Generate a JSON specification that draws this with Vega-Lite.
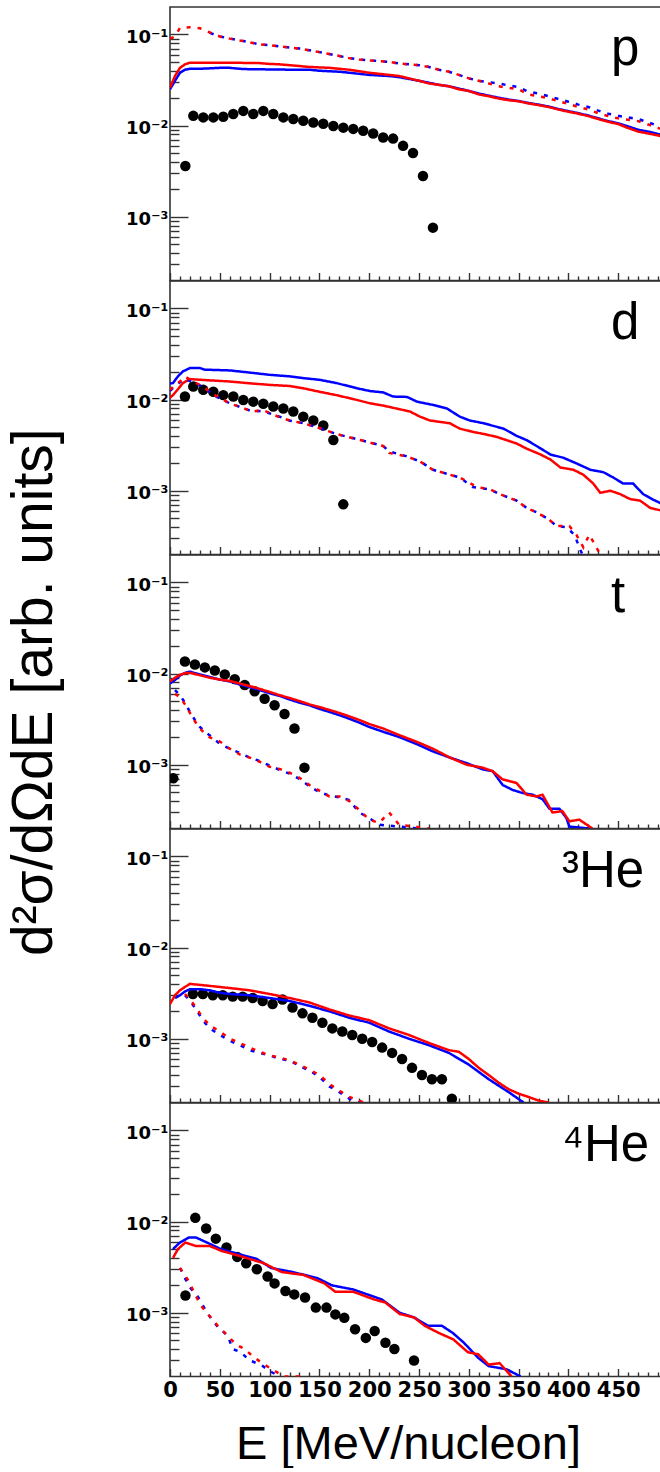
{
"$schema": "https://vega.github.io/schema/vega-lite/v6.json",
"padding": {"left": 4, "top": 6, "right": 0, "bottom": 0},
"background": "white",
"spacing": 0,
"bounds": "flush",
"config": {
  "view": {"stroke": "#333", "strokeWidth": 1.6},
  "axis": {"domain": false, "grid": false, "tickColor": "#333", "tickWidth": 1.4, "labelColor": "#000", "labelFont": "DejaVu Sans", "labelFontWeight": "bold", "titleColor": "#000", "titleFont": "Liberation Sans", "titleFontWeight": "normal", "labelOverlap": false, "labelFlush": false, "labelBound": false},
  "title": {"font": "Liberation Sans", "fontSize": 51, "fontWeight": "normal", "color": "#000", "anchor": "start", "frame": "group", "orient": "top", "baseline": "alphabetic", "offset": -69}
},
"datasets": {"d": [
{"panel":"p","series":"blue","E":0,"v":0.025},{"panel":"p","series":"blue","E":5,"v":0.031},{"panel":"p","series":"blue","E":10,"v":0.038},{"panel":"p","series":"blue","E":15,"v":0.041},{"panel":"p","series":"blue","E":20,"v":0.042},{"panel":"p","series":"blue","E":30,"v":0.042},{"panel":"p","series":"blue","E":40,"v":0.0425},{"panel":"p","series":"blue","E":50,"v":0.043},{"panel":"p","series":"blue","E":60,"v":0.043},{"panel":"p","series":"blue","E":70,"v":0.042},{"panel":"p","series":"blue","E":80,"v":0.0415},{"panel":"p","series":"blue","E":90,"v":0.0415},{"panel":"p","series":"blue","E":100,"v":0.0413},{"panel":"p","series":"blue","E":110,"v":0.0413},{"panel":"p","series":"blue","E":120,"v":0.041},{"panel":"p","series":"blue","E":130,"v":0.041},{"panel":"p","series":"blue","E":140,"v":0.041},{"panel":"p","series":"blue","E":150,"v":0.04},{"panel":"p","series":"blue","E":160,"v":0.0395},{"panel":"p","series":"blue","E":170,"v":0.039},{"panel":"p","series":"blue","E":180,"v":0.038},{"panel":"p","series":"blue","E":190,"v":0.037},{"panel":"p","series":"blue","E":200,"v":0.036},{"panel":"p","series":"blue","E":210,"v":0.0355},{"panel":"p","series":"blue","E":220,"v":0.035},{"panel":"p","series":"blue","E":230,"v":0.034},{"panel":"p","series":"blue","E":240,"v":0.0325},{"panel":"p","series":"blue","E":250,"v":0.031},{"panel":"p","series":"blue","E":260,"v":0.0295},{"panel":"p","series":"blue","E":270,"v":0.028},{"panel":"p","series":"blue","E":280,"v":0.027},{"panel":"p","series":"blue","E":290,"v":0.0255},{"panel":"p","series":"blue","E":300,"v":0.024},{"panel":"p","series":"blue","E":310,"v":0.0225},{"panel":"p","series":"blue","E":320,"v":0.0213},{"panel":"p","series":"blue","E":330,"v":0.0202},{"panel":"p","series":"blue","E":340,"v":0.0193},{"panel":"p","series":"blue","E":350,"v":0.0186},{"panel":"p","series":"blue","E":360,"v":0.0177},{"panel":"p","series":"blue","E":370,"v":0.017},{"panel":"p","series":"blue","E":380,"v":0.0162},{"panel":"p","series":"blue","E":390,"v":0.0152},{"panel":"p","series":"blue","E":400,"v":0.0144},{"panel":"p","series":"blue","E":410,"v":0.0137},{"panel":"p","series":"blue","E":420,"v":0.0129},{"panel":"p","series":"blue","E":430,"v":0.012},{"panel":"p","series":"blue","E":440,"v":0.0112},{"panel":"p","series":"blue","E":450,"v":0.0106},{"panel":"p","series":"blue","E":460,"v":0.0098},{"panel":"p","series":"blue","E":470,"v":0.009},{"panel":"p","series":"blue","E":480,"v":0.0086},{"panel":"p","series":"blue","E":490,"v":0.0081},{"panel":"p","series":"blue","E":495,"v":0.0079},
{"panel":"p","series":"red","E":0,"v":0.026},{"panel":"p","series":"red","E":5,"v":0.035},{"panel":"p","series":"red","E":10,"v":0.043},{"panel":"p","series":"red","E":15,"v":0.047},{"panel":"p","series":"red","E":20,"v":0.049},{"panel":"p","series":"red","E":30,"v":0.049},{"panel":"p","series":"red","E":40,"v":0.049},{"panel":"p","series":"red","E":50,"v":0.049},{"panel":"p","series":"red","E":60,"v":0.049},{"panel":"p","series":"red","E":70,"v":0.0488},{"panel":"p","series":"red","E":80,"v":0.0487},{"panel":"p","series":"red","E":90,"v":0.0485},{"panel":"p","series":"red","E":100,"v":0.0475},{"panel":"p","series":"red","E":110,"v":0.047},{"panel":"p","series":"red","E":120,"v":0.046},{"panel":"p","series":"red","E":130,"v":0.045},{"panel":"p","series":"red","E":140,"v":0.044},{"panel":"p","series":"red","E":150,"v":0.0435},{"panel":"p","series":"red","E":160,"v":0.043},{"panel":"p","series":"red","E":170,"v":0.042},{"panel":"p","series":"red","E":180,"v":0.041},{"panel":"p","series":"red","E":190,"v":0.0395},{"panel":"p","series":"red","E":200,"v":0.038},{"panel":"p","series":"red","E":210,"v":0.037},{"panel":"p","series":"red","E":220,"v":0.036},{"panel":"p","series":"red","E":230,"v":0.035},{"panel":"p","series":"red","E":240,"v":0.033},{"panel":"p","series":"red","E":250,"v":0.031},{"panel":"p","series":"red","E":260,"v":0.029},{"panel":"p","series":"red","E":270,"v":0.028},{"panel":"p","series":"red","E":280,"v":0.027},{"panel":"p","series":"red","E":290,"v":0.025},{"panel":"p","series":"red","E":300,"v":0.024},{"panel":"p","series":"red","E":310,"v":0.022},{"panel":"p","series":"red","E":320,"v":0.021},{"panel":"p","series":"red","E":330,"v":0.0198},{"panel":"p","series":"red","E":340,"v":0.019},{"panel":"p","series":"red","E":350,"v":0.0185},{"panel":"p","series":"red","E":360,"v":0.0175},{"panel":"p","series":"red","E":370,"v":0.0168},{"panel":"p","series":"red","E":380,"v":0.016},{"panel":"p","series":"red","E":390,"v":0.015},{"panel":"p","series":"red","E":400,"v":0.0142},{"panel":"p","series":"red","E":410,"v":0.0135},{"panel":"p","series":"red","E":420,"v":0.0127},{"panel":"p","series":"red","E":430,"v":0.0118},{"panel":"p","series":"red","E":440,"v":0.011},{"panel":"p","series":"red","E":450,"v":0.0104},{"panel":"p","series":"red","E":460,"v":0.0094},{"panel":"p","series":"red","E":470,"v":0.0086},{"panel":"p","series":"red","E":480,"v":0.0082},{"panel":"p","series":"red","E":490,"v":0.0078},{"panel":"p","series":"red","E":495,"v":0.0075},
{"panel":"p","series":"blue dotted","E":40,"v":0.104},{"panel":"p","series":"blue dotted","E":50,"v":0.095},{"panel":"p","series":"blue dotted","E":60,"v":0.09},{"panel":"p","series":"blue dotted","E":70,"v":0.086},{"panel":"p","series":"blue dotted","E":80,"v":0.082},{"panel":"p","series":"blue dotted","E":90,"v":0.078},{"panel":"p","series":"blue dotted","E":100,"v":0.076},{"panel":"p","series":"blue dotted","E":110,"v":0.074},{"panel":"p","series":"blue dotted","E":120,"v":0.072},{"panel":"p","series":"blue dotted","E":130,"v":0.07},{"panel":"p","series":"blue dotted","E":140,"v":0.067},{"panel":"p","series":"blue dotted","E":150,"v":0.064},{"panel":"p","series":"blue dotted","E":160,"v":0.061},{"panel":"p","series":"blue dotted","E":170,"v":0.058},{"panel":"p","series":"blue dotted","E":180,"v":0.055},{"panel":"p","series":"blue dotted","E":190,"v":0.053},{"panel":"p","series":"blue dotted","E":200,"v":0.052},{"panel":"p","series":"blue dotted","E":210,"v":0.051},{"panel":"p","series":"blue dotted","E":220,"v":0.05},{"panel":"p","series":"blue dotted","E":230,"v":0.048},{"panel":"p","series":"blue dotted","E":240,"v":0.047},{"panel":"p","series":"blue dotted","E":250,"v":0.046},{"panel":"p","series":"blue dotted","E":260,"v":0.044},{"panel":"p","series":"blue dotted","E":270,"v":0.041},{"panel":"p","series":"blue dotted","E":280,"v":0.039},{"panel":"p","series":"blue dotted","E":290,"v":0.036},{"panel":"p","series":"blue dotted","E":300,"v":0.033},{"panel":"p","series":"blue dotted","E":310,"v":0.031},{"panel":"p","series":"blue dotted","E":320,"v":0.03},{"panel":"p","series":"blue dotted","E":330,"v":0.029},{"panel":"p","series":"blue dotted","E":340,"v":0.0275},{"panel":"p","series":"blue dotted","E":350,"v":0.0265},{"panel":"p","series":"blue dotted","E":360,"v":0.0235},{"panel":"p","series":"blue dotted","E":370,"v":0.0225},{"panel":"p","series":"blue dotted","E":380,"v":0.021},{"panel":"p","series":"blue dotted","E":390,"v":0.0196},{"panel":"p","series":"blue dotted","E":400,"v":0.0183},{"panel":"p","series":"blue dotted","E":410,"v":0.017},{"panel":"p","series":"blue dotted","E":420,"v":0.016},{"panel":"p","series":"blue dotted","E":430,"v":0.0146},{"panel":"p","series":"blue dotted","E":440,"v":0.0135},{"panel":"p","series":"blue dotted","E":450,"v":0.0128},{"panel":"p","series":"blue dotted","E":460,"v":0.0123},{"panel":"p","series":"blue dotted","E":470,"v":0.0118},{"panel":"p","series":"blue dotted","E":480,"v":0.0109},{"panel":"p","series":"blue dotted","E":490,"v":0.0099},{"panel":"p","series":"blue dotted","E":495,"v":0.0096},
{"panel":"p","series":"red dotted","E":0,"v":0.09},{"panel":"p","series":"red dotted","E":5,"v":0.095},{"panel":"p","series":"red dotted","E":10,"v":0.118},{"panel":"p","series":"red dotted","E":20,"v":0.12},{"panel":"p","series":"red dotted","E":30,"v":0.117},{"panel":"p","series":"red dotted","E":40,"v":0.105},{"panel":"p","series":"red dotted","E":50,"v":0.095},{"panel":"p","series":"red dotted","E":60,"v":0.09},{"panel":"p","series":"red dotted","E":70,"v":0.086},{"panel":"p","series":"red dotted","E":80,"v":0.082},{"panel":"p","series":"red dotted","E":90,"v":0.078},{"panel":"p","series":"red dotted","E":100,"v":0.076},{"panel":"p","series":"red dotted","E":110,"v":0.074},{"panel":"p","series":"red dotted","E":120,"v":0.072},{"panel":"p","series":"red dotted","E":130,"v":0.07},{"panel":"p","series":"red dotted","E":140,"v":0.067},{"panel":"p","series":"red dotted","E":150,"v":0.064},{"panel":"p","series":"red dotted","E":160,"v":0.061},{"panel":"p","series":"red dotted","E":170,"v":0.058},{"panel":"p","series":"red dotted","E":180,"v":0.055},{"panel":"p","series":"red dotted","E":190,"v":0.053},{"panel":"p","series":"red dotted","E":200,"v":0.052},{"panel":"p","series":"red dotted","E":210,"v":0.051},{"panel":"p","series":"red dotted","E":220,"v":0.05},{"panel":"p","series":"red dotted","E":230,"v":0.048},{"panel":"p","series":"red dotted","E":240,"v":0.047},{"panel":"p","series":"red dotted","E":250,"v":0.046},{"panel":"p","series":"red dotted","E":260,"v":0.044},{"panel":"p","series":"red dotted","E":270,"v":0.041},{"panel":"p","series":"red dotted","E":280,"v":0.039},{"panel":"p","series":"red dotted","E":290,"v":0.036},{"panel":"p","series":"red dotted","E":300,"v":0.033},{"panel":"p","series":"red dotted","E":310,"v":0.031},{"panel":"p","series":"red dotted","E":320,"v":0.029},{"panel":"p","series":"red dotted","E":330,"v":0.027},{"panel":"p","series":"red dotted","E":340,"v":0.026},{"panel":"p","series":"red dotted","E":350,"v":0.025},{"panel":"p","series":"red dotted","E":360,"v":0.022},{"panel":"p","series":"red dotted","E":370,"v":0.021},{"panel":"p","series":"red dotted","E":380,"v":0.02},{"panel":"p","series":"red dotted","E":390,"v":0.0185},{"panel":"p","series":"red dotted","E":400,"v":0.0173},{"panel":"p","series":"red dotted","E":410,"v":0.016},{"panel":"p","series":"red dotted","E":420,"v":0.015},{"panel":"p","series":"red dotted","E":430,"v":0.0137},{"panel":"p","series":"red dotted","E":440,"v":0.0127},{"panel":"p","series":"red dotted","E":450,"v":0.012},{"panel":"p","series":"red dotted","E":460,"v":0.0116},{"panel":"p","series":"red dotted","E":470,"v":0.0112},{"panel":"p","series":"red dotted","E":480,"v":0.0103},{"panel":"p","series":"red dotted","E":490,"v":0.0094},{"panel":"p","series":"red dotted","E":495,"v":0.0092},
{"panel":"p","series":"data","E":15.4,"v":0.0036},{"panel":"p","series":"data","E":23.4,"v":0.0128},{"panel":"p","series":"data","E":33.4,"v":0.0123},{"panel":"p","series":"data","E":43.5,"v":0.0123},{"panel":"p","series":"data","E":53.5,"v":0.0125},{"panel":"p","series":"data","E":63.5,"v":0.0134},{"panel":"p","series":"data","E":73.6,"v":0.0145},{"panel":"p","series":"data","E":83.6,"v":0.0134},{"panel":"p","series":"data","E":93.7,"v":0.0145},{"panel":"p","series":"data","E":103.7,"v":0.0134},{"panel":"p","series":"data","E":113.8,"v":0.0123},{"panel":"p","series":"data","E":123.8,"v":0.0118},{"panel":"p","series":"data","E":133.8,"v":0.0113},{"panel":"p","series":"data","E":143.9,"v":0.0108},{"panel":"p","series":"data","E":153.9,"v":0.0105},{"panel":"p","series":"data","E":164,"v":0.0099},{"panel":"p","series":"data","E":174,"v":0.0095},{"panel":"p","series":"data","E":184,"v":0.0092},{"panel":"p","series":"data","E":194,"v":0.0088},{"panel":"p","series":"data","E":204,"v":0.0082},{"panel":"p","series":"data","E":214,"v":0.0074},{"panel":"p","series":"data","E":224,"v":0.0072},{"panel":"p","series":"data","E":234,"v":0.006},{"panel":"p","series":"data","E":244,"v":0.005},{"panel":"p","series":"data","E":254,"v":0.0028},{"panel":"p","series":"data","E":264,"v":0.00076},
{"panel":"d","series":"blue","E":0,"v":0.015},{"panel":"d","series":"blue","E":3,"v":0.0152},{"panel":"d","series":"blue","E":8,"v":0.018},{"panel":"d","series":"blue","E":13,"v":0.0204},{"panel":"d","series":"blue","E":20,"v":0.0222},{"panel":"d","series":"blue","E":30,"v":0.0222},{"panel":"d","series":"blue","E":35,"v":0.0213},{"panel":"d","series":"blue","E":60,"v":0.0209},{"panel":"d","series":"blue","E":80,"v":0.0198},{"panel":"d","series":"blue","E":100,"v":0.0187},{"panel":"d","series":"blue","E":120,"v":0.018},{"panel":"d","series":"blue","E":134,"v":0.0172},{"panel":"d","series":"blue","E":150,"v":0.0165},{"panel":"d","series":"blue","E":167,"v":0.0152},{"panel":"d","series":"blue","E":188,"v":0.0133},{"panel":"d","series":"blue","E":201,"v":0.0124},{"panel":"d","series":"blue","E":214,"v":0.012},{"panel":"d","series":"blue","E":224,"v":0.0108},{"panel":"d","series":"blue","E":238,"v":0.0107},{"panel":"d","series":"blue","E":248,"v":0.0095},{"panel":"d","series":"blue","E":265,"v":0.0087},{"panel":"d","series":"blue","E":278,"v":0.008},{"panel":"d","series":"blue","E":291,"v":0.0065},{"panel":"d","series":"blue","E":301,"v":0.0059},{"panel":"d","series":"blue","E":315,"v":0.0055},{"panel":"d","series":"blue","E":335,"v":0.0048},{"panel":"d","series":"blue","E":348,"v":0.004},{"panel":"d","series":"blue","E":358,"v":0.0036},{"panel":"d","series":"blue","E":368,"v":0.0031},{"panel":"d","series":"blue","E":382,"v":0.0025},{"panel":"d","series":"blue","E":395,"v":0.0023},{"panel":"d","series":"blue","E":408,"v":0.002},{"panel":"d","series":"blue","E":422,"v":0.0017},{"panel":"d","series":"blue","E":435,"v":0.0016},{"panel":"d","series":"blue","E":445,"v":0.0014},{"panel":"d","series":"blue","E":455,"v":0.0012},{"panel":"d","series":"blue","E":465,"v":0.0012},{"panel":"d","series":"blue","E":475,"v":0.00092},{"panel":"d","series":"blue","E":485,"v":0.0008},{"panel":"d","series":"blue","E":495,"v":0.00071},
{"panel":"d","series":"red","E":0,"v":0.0105},{"panel":"d","series":"red","E":3,"v":0.0112},{"panel":"d","series":"red","E":8,"v":0.013},{"panel":"d","series":"red","E":13,"v":0.0152},{"panel":"d","series":"red","E":20,"v":0.0168},{"panel":"d","series":"red","E":30,"v":0.0165},{"panel":"d","series":"red","E":60,"v":0.0158},{"panel":"d","series":"red","E":77,"v":0.0152},{"panel":"d","series":"red","E":100,"v":0.0145},{"panel":"d","series":"red","E":120,"v":0.0141},{"panel":"d","series":"red","E":134,"v":0.0133},{"panel":"d","series":"red","E":150,"v":0.0122},{"panel":"d","series":"red","E":167,"v":0.0112},{"panel":"d","series":"red","E":188,"v":0.0099},{"panel":"d","series":"red","E":201,"v":0.0091},{"panel":"d","series":"red","E":214,"v":0.0086},{"panel":"d","series":"red","E":227,"v":0.008},{"panel":"d","series":"red","E":241,"v":0.0074},{"panel":"d","series":"red","E":251,"v":0.0065},{"panel":"d","series":"red","E":261,"v":0.0059},{"panel":"d","series":"red","E":281,"v":0.0055},{"panel":"d","series":"red","E":291,"v":0.0048},{"panel":"d","series":"red","E":305,"v":0.0044},{"panel":"d","series":"red","E":315,"v":0.0042},{"panel":"d","series":"red","E":328,"v":0.0039},{"panel":"d","series":"red","E":348,"v":0.0033},{"panel":"d","series":"red","E":358,"v":0.0029},{"panel":"d","series":"red","E":372,"v":0.0025},{"panel":"d","series":"red","E":382,"v":0.0022},{"panel":"d","series":"red","E":392,"v":0.0018},{"panel":"d","series":"red","E":405,"v":0.0017},{"panel":"d","series":"red","E":415,"v":0.0015},{"panel":"d","series":"red","E":425,"v":0.0012},{"panel":"d","series":"red","E":432,"v":0.00095},{"panel":"d","series":"red","E":442,"v":0.001},{"panel":"d","series":"red","E":452,"v":0.00092},{"panel":"d","series":"red","E":462,"v":0.00081},{"panel":"d","series":"red","E":472,"v":0.00078},{"panel":"d","series":"red","E":482,"v":0.00065},{"panel":"d","series":"red","E":495,"v":0.0006},
{"panel":"d","series":"blue dotted","E":0,"v":0.0125},{"panel":"d","series":"blue dotted","E":5,"v":0.014},{"panel":"d","series":"blue dotted","E":10,"v":0.0155},{"panel":"d","series":"blue dotted","E":15,"v":0.017},{"panel":"d","series":"blue dotted","E":20,"v":0.016},{"panel":"d","series":"blue dotted","E":33,"v":0.0139},{"panel":"d","series":"blue dotted","E":45,"v":0.011},{"panel":"d","series":"blue dotted","E":60,"v":0.0091},{"panel":"d","series":"blue dotted","E":83,"v":0.0074},{"panel":"d","series":"blue dotted","E":93,"v":0.0075},{"panel":"d","series":"blue dotted","E":110,"v":0.0065},{"panel":"d","series":"blue dotted","E":120,"v":0.0059},{"panel":"d","series":"blue dotted","E":134,"v":0.0055},{"panel":"d","series":"blue dotted","E":147,"v":0.005},{"panel":"d","series":"blue dotted","E":167,"v":0.0042},{"panel":"d","series":"blue dotted","E":191,"v":0.0036},{"panel":"d","series":"blue dotted","E":214,"v":0.0031},{"panel":"d","series":"blue dotted","E":220,"v":0.0027},{"panel":"d","series":"blue dotted","E":237,"v":0.0024},{"panel":"d","series":"blue dotted","E":251,"v":0.0021},{"panel":"d","series":"blue dotted","E":264,"v":0.0017},{"panel":"d","series":"blue dotted","E":281,"v":0.0015},{"panel":"d","series":"blue dotted","E":291,"v":0.0014},{"panel":"d","series":"blue dotted","E":304,"v":0.0011},{"panel":"d","series":"blue dotted","E":314,"v":0.00106},{"panel":"d","series":"blue dotted","E":321,"v":0.00104},{"panel":"d","series":"blue dotted","E":331,"v":0.00092},{"panel":"d","series":"blue dotted","E":348,"v":0.00078},{"panel":"d","series":"blue dotted","E":358,"v":0.00065},{"panel":"d","series":"blue dotted","E":368,"v":0.00058},{"panel":"d","series":"blue dotted","E":380,"v":0.00049},{"panel":"d","series":"blue dotted","E":388,"v":0.00041},{"panel":"d","series":"blue dotted","E":398,"v":0.0004},{"panel":"d","series":"blue dotted","E":406,"v":0.00033},{"panel":"d","series":"blue dotted","E":411,"v":0.00024},{"panel":"d","series":"blue dotted","E":414,"v":0.0002},
{"panel":"d","series":"red dotted","E":0,"v":0.0128},{"panel":"d","series":"red dotted","E":5,"v":0.0145},{"panel":"d","series":"red dotted","E":10,"v":0.0158},{"panel":"d","series":"red dotted","E":15,"v":0.018},{"panel":"d","series":"red dotted","E":20,"v":0.0165},{"panel":"d","series":"red dotted","E":33,"v":0.0139},{"panel":"d","series":"red dotted","E":45,"v":0.0112},{"panel":"d","series":"red dotted","E":60,"v":0.0091},{"panel":"d","series":"red dotted","E":83,"v":0.0074},{"panel":"d","series":"red dotted","E":93,"v":0.0077},{"panel":"d","series":"red dotted","E":110,"v":0.0064},{"panel":"d","series":"red dotted","E":120,"v":0.0059},{"panel":"d","series":"red dotted","E":134,"v":0.0055},{"panel":"d","series":"red dotted","E":147,"v":0.005},{"panel":"d","series":"red dotted","E":167,"v":0.0042},{"panel":"d","series":"red dotted","E":191,"v":0.0036},{"panel":"d","series":"red dotted","E":214,"v":0.0031},{"panel":"d","series":"red dotted","E":220,"v":0.0026},{"panel":"d","series":"red dotted","E":237,"v":0.0024},{"panel":"d","series":"red dotted","E":251,"v":0.0021},{"panel":"d","series":"red dotted","E":264,"v":0.0017},{"panel":"d","series":"red dotted","E":281,"v":0.0015},{"panel":"d","series":"red dotted","E":291,"v":0.0014},{"panel":"d","series":"red dotted","E":308,"v":0.0011},{"panel":"d","series":"red dotted","E":321,"v":0.00104},{"panel":"d","series":"red dotted","E":331,"v":0.00092},{"panel":"d","series":"red dotted","E":348,"v":0.00078},{"panel":"d","series":"red dotted","E":358,"v":0.00065},{"panel":"d","series":"red dotted","E":368,"v":0.00058},{"panel":"d","series":"red dotted","E":380,"v":0.00049},{"panel":"d","series":"red dotted","E":388,"v":0.00041},{"panel":"d","series":"red dotted","E":401,"v":0.00041},{"panel":"d","series":"red dotted","E":408,"v":0.00033},{"panel":"d","series":"red dotted","E":415,"v":0.00024},{"panel":"d","series":"red dotted","E":421,"v":0.00033},{"panel":"d","series":"red dotted","E":428,"v":0.00024},{"panel":"d","series":"red dotted","E":432,"v":0.0002},
{"panel":"d","series":"data","E":15,"v":0.0108},{"panel":"d","series":"data","E":23.4,"v":0.0139},{"panel":"d","series":"data","E":33.4,"v":0.0128},{"panel":"d","series":"data","E":43.5,"v":0.0122},{"panel":"d","series":"data","E":53.5,"v":0.0112},{"panel":"d","series":"data","E":63.6,"v":0.0108},{"panel":"d","series":"data","E":73.6,"v":0.0099},{"panel":"d","series":"data","E":83.6,"v":0.0095},{"panel":"d","series":"data","E":93.7,"v":0.009},{"panel":"d","series":"data","E":103.7,"v":0.0084},{"panel":"d","series":"data","E":113.8,"v":0.008},{"panel":"d","series":"data","E":123.8,"v":0.0074},{"panel":"d","series":"data","E":133.8,"v":0.0065},{"panel":"d","series":"data","E":143.9,"v":0.0059},{"panel":"d","series":"data","E":153.9,"v":0.0052},{"panel":"d","series":"data","E":164,"v":0.0036},{"panel":"d","series":"data","E":174,"v":0.00071},
{"panel":"t","series":"blue","E":0,"v":0.0078},{"panel":"t","series":"blue","E":5,"v":0.0085},{"panel":"t","series":"blue","E":10,"v":0.0095},{"panel":"t","series":"blue","E":15,"v":0.0102},{"panel":"t","series":"blue","E":20,"v":0.0105},{"panel":"t","series":"blue","E":30,"v":0.0098},{"panel":"t","series":"blue","E":40,"v":0.0092},{"panel":"t","series":"blue","E":50,"v":0.0086},{"panel":"t","series":"blue","E":60,"v":0.0082},{"panel":"t","series":"blue","E":70,"v":0.0076},{"panel":"t","series":"blue","E":80,"v":0.0071},{"panel":"t","series":"blue","E":90,"v":0.0066},{"panel":"t","series":"blue","E":100,"v":0.0061},{"panel":"t","series":"blue","E":110,"v":0.0057},{"panel":"t","series":"blue","E":120,"v":0.0052},{"panel":"t","series":"blue","E":130,"v":0.0048},{"panel":"t","series":"blue","E":140,"v":0.0045},{"panel":"t","series":"blue","E":150,"v":0.0041},{"panel":"t","series":"blue","E":160,"v":0.0038},{"panel":"t","series":"blue","E":170,"v":0.0035},{"panel":"t","series":"blue","E":180,"v":0.0032},{"panel":"t","series":"blue","E":190,"v":0.0029},{"panel":"t","series":"blue","E":200,"v":0.0026},{"panel":"t","series":"blue","E":214,"v":0.0023},{"panel":"t","series":"blue","E":231,"v":0.002},{"panel":"t","series":"blue","E":247,"v":0.0017},{"panel":"t","series":"blue","E":264,"v":0.0014},{"panel":"t","series":"blue","E":281,"v":0.0012},{"panel":"t","series":"blue","E":298,"v":0.00104},{"panel":"t","series":"blue","E":314,"v":0.00089},{"panel":"t","series":"blue","E":324,"v":0.00085},{"panel":"t","series":"blue","E":334,"v":0.0006},{"panel":"t","series":"blue","E":344,"v":0.00053},{"panel":"t","series":"blue","E":354,"v":0.00049},{"panel":"t","series":"blue","E":364,"v":0.00047},{"panel":"t","series":"blue","E":374,"v":0.00042},{"panel":"t","series":"blue","E":381,"v":0.00033},{"panel":"t","series":"blue","E":391,"v":0.00033},{"panel":"t","series":"blue","E":398,"v":0.00026},{"panel":"t","series":"blue","E":401,"v":0.00021},{"panel":"t","series":"blue","E":421,"v":0.0002},
{"panel":"t","series":"red","E":0,"v":0.0082},{"panel":"t","series":"red","E":5,"v":0.009},{"panel":"t","series":"red","E":10,"v":0.0097},{"panel":"t","series":"red","E":15,"v":0.0101},{"panel":"t","series":"red","E":20,"v":0.0102},{"panel":"t","series":"red","E":30,"v":0.0096},{"panel":"t","series":"red","E":40,"v":0.009},{"panel":"t","series":"red","E":50,"v":0.0086},{"panel":"t","series":"red","E":60,"v":0.0083},{"panel":"t","series":"red","E":70,"v":0.0078},{"panel":"t","series":"red","E":80,"v":0.0073},{"panel":"t","series":"red","E":90,"v":0.0068},{"panel":"t","series":"red","E":100,"v":0.0063},{"panel":"t","series":"red","E":110,"v":0.0058},{"panel":"t","series":"red","E":120,"v":0.0054},{"panel":"t","series":"red","E":130,"v":0.005},{"panel":"t","series":"red","E":140,"v":0.0046},{"panel":"t","series":"red","E":150,"v":0.0043},{"panel":"t","series":"red","E":160,"v":0.004},{"panel":"t","series":"red","E":170,"v":0.0037},{"panel":"t","series":"red","E":180,"v":0.0034},{"panel":"t","series":"red","E":190,"v":0.0031},{"panel":"t","series":"red","E":200,"v":0.0028},{"panel":"t","series":"red","E":214,"v":0.0025},{"panel":"t","series":"red","E":231,"v":0.0021},{"panel":"t","series":"red","E":247,"v":0.0018},{"panel":"t","series":"red","E":264,"v":0.0015},{"panel":"t","series":"red","E":281,"v":0.0012},{"panel":"t","series":"red","E":298,"v":0.001},{"panel":"t","series":"red","E":314,"v":0.00093},{"panel":"t","series":"red","E":324,"v":0.00085},{"panel":"t","series":"red","E":334,"v":0.00069},{"panel":"t","series":"red","E":348,"v":0.00063},{"panel":"t","series":"red","E":358,"v":0.00047},{"panel":"t","series":"red","E":368,"v":0.00045},{"panel":"t","series":"red","E":374,"v":0.00047},{"panel":"t","series":"red","E":384,"v":0.0003},{"panel":"t","series":"red","E":394,"v":0.00031},{"panel":"t","series":"red","E":401,"v":0.00024},{"panel":"t","series":"red","E":411,"v":0.00025},{"panel":"t","series":"red","E":424,"v":0.0002},
{"panel":"t","series":"blue dotted","E":5,"v":0.0066},{"panel":"t","series":"blue dotted","E":10,"v":0.0058},{"panel":"t","series":"blue dotted","E":15,"v":0.0048},{"panel":"t","series":"blue dotted","E":20,"v":0.0038},{"panel":"t","series":"blue dotted","E":25,"v":0.0031},{"panel":"t","series":"blue dotted","E":30,"v":0.0026},{"panel":"t","series":"blue dotted","E":35,"v":0.0023},{"panel":"t","series":"blue dotted","E":40,"v":0.0021},{"panel":"t","series":"blue dotted","E":50,"v":0.0017},{"panel":"t","series":"blue dotted","E":60,"v":0.0015},{"panel":"t","series":"blue dotted","E":70,"v":0.00135},{"panel":"t","series":"blue dotted","E":80,"v":0.0012},{"panel":"t","series":"blue dotted","E":90,"v":0.0011},{"panel":"t","series":"blue dotted","E":100,"v":0.00098},{"panel":"t","series":"blue dotted","E":110,"v":0.00088},{"panel":"t","series":"blue dotted","E":120,"v":0.0008},{"panel":"t","series":"blue dotted","E":130,"v":0.0007},{"panel":"t","series":"blue dotted","E":140,"v":0.00058},{"panel":"t","series":"blue dotted","E":150,"v":0.0005},{"panel":"t","series":"blue dotted","E":160,"v":0.00046},{"panel":"t","series":"blue dotted","E":170,"v":0.00044},{"panel":"t","series":"blue dotted","E":180,"v":0.00041},{"panel":"t","series":"blue dotted","E":190,"v":0.0003},{"panel":"t","series":"blue dotted","E":200,"v":0.00026},{"panel":"t","series":"blue dotted","E":210,"v":0.00022},{"panel":"t","series":"blue dotted","E":230,"v":0.00021},{"panel":"t","series":"blue dotted","E":250,"v":0.0002},
{"panel":"t","series":"red dotted","E":5,"v":0.006},{"panel":"t","series":"red dotted","E":10,"v":0.0055},{"panel":"t","series":"red dotted","E":15,"v":0.0046},{"panel":"t","series":"red dotted","E":20,"v":0.0037},{"panel":"t","series":"red dotted","E":25,"v":0.003},{"panel":"t","series":"red dotted","E":30,"v":0.0025},{"panel":"t","series":"red dotted","E":35,"v":0.0022},{"panel":"t","series":"red dotted","E":40,"v":0.002},{"panel":"t","series":"red dotted","E":50,"v":0.0018},{"panel":"t","series":"red dotted","E":60,"v":0.0015},{"panel":"t","series":"red dotted","E":70,"v":0.0013},{"panel":"t","series":"red dotted","E":80,"v":0.0012},{"panel":"t","series":"red dotted","E":90,"v":0.00108},{"panel":"t","series":"red dotted","E":100,"v":0.00095},{"panel":"t","series":"red dotted","E":110,"v":0.0009},{"panel":"t","series":"red dotted","E":120,"v":0.00082},{"panel":"t","series":"red dotted","E":130,"v":0.00072},{"panel":"t","series":"red dotted","E":140,"v":0.0006},{"panel":"t","series":"red dotted","E":150,"v":0.00052},{"panel":"t","series":"red dotted","E":160,"v":0.00045},{"panel":"t","series":"red dotted","E":170,"v":0.00045},{"panel":"t","series":"red dotted","E":180,"v":0.0004},{"panel":"t","series":"red dotted","E":190,"v":0.00032},{"panel":"t","series":"red dotted","E":200,"v":0.00025},{"panel":"t","series":"red dotted","E":210,"v":0.00023},{"panel":"t","series":"red dotted","E":220,"v":0.0003},{"panel":"t","series":"red dotted","E":230,"v":0.00022},{"panel":"t","series":"red dotted","E":245,"v":0.00021},{"panel":"t","series":"red dotted","E":260,"v":0.0002},
{"panel":"t","series":"data","E":3.3,"v":0.00071},{"panel":"t","series":"data","E":15,"v":0.0136},{"panel":"t","series":"data","E":25,"v":0.0126},{"panel":"t","series":"data","E":35,"v":0.0117},{"panel":"t","series":"data","E":45,"v":0.0108},{"panel":"t","series":"data","E":55,"v":0.0098},{"panel":"t","series":"data","E":65,"v":0.0087},{"panel":"t","series":"data","E":75,"v":0.0075},{"panel":"t","series":"data","E":85,"v":0.0064},{"panel":"t","series":"data","E":95,"v":0.0053},{"panel":"t","series":"data","E":105,"v":0.0045},{"panel":"t","series":"data","E":115,"v":0.0036},{"panel":"t","series":"data","E":125,"v":0.0025},{"panel":"t","series":"data","E":135,"v":0.00093},
{"panel":"h3","series":"blue","E":5,"v":0.0028},{"panel":"h3","series":"blue","E":10,"v":0.003},{"panel":"h3","series":"blue","E":15,"v":0.0033},{"panel":"h3","series":"blue","E":20,"v":0.0035},{"panel":"h3","series":"blue","E":30,"v":0.0035},{"panel":"h3","series":"blue","E":40,"v":0.0034},{"panel":"h3","series":"blue","E":50,"v":0.0032},{"panel":"h3","series":"blue","E":60,"v":0.0031},{"panel":"h3","series":"blue","E":80,"v":0.003},{"panel":"h3","series":"blue","E":100,"v":0.0028},{"panel":"h3","series":"blue","E":120,"v":0.0026},{"panel":"h3","series":"blue","E":140,"v":0.0023},{"panel":"h3","series":"blue","E":160,"v":0.002},{"panel":"h3","series":"blue","E":180,"v":0.0017},{"panel":"h3","series":"blue","E":200,"v":0.0015},{"panel":"h3","series":"blue","E":220,"v":0.0012},{"panel":"h3","series":"blue","E":240,"v":0.001},{"panel":"h3","series":"blue","E":260,"v":0.00085},{"panel":"h3","series":"blue","E":280,"v":0.0007},{"panel":"h3","series":"blue","E":300,"v":0.00052},{"panel":"h3","series":"blue","E":320,"v":0.00036},{"panel":"h3","series":"blue","E":340,"v":0.00026},{"panel":"h3","series":"blue","E":355,"v":0.0002},
{"panel":"h3","series":"red","E":0,"v":0.0024},{"panel":"h3","series":"red","E":5,"v":0.003},{"panel":"h3","series":"red","E":10,"v":0.0034},{"panel":"h3","series":"red","E":15,"v":0.0037},{"panel":"h3","series":"red","E":20,"v":0.004},{"panel":"h3","series":"red","E":30,"v":0.0039},{"panel":"h3","series":"red","E":40,"v":0.0038},{"panel":"h3","series":"red","E":50,"v":0.0037},{"panel":"h3","series":"red","E":60,"v":0.0036},{"panel":"h3","series":"red","E":80,"v":0.0034},{"panel":"h3","series":"red","E":100,"v":0.0031},{"panel":"h3","series":"red","E":120,"v":0.0028},{"panel":"h3","series":"red","E":140,"v":0.0025},{"panel":"h3","series":"red","E":160,"v":0.0021},{"panel":"h3","series":"red","E":180,"v":0.0018},{"panel":"h3","series":"red","E":200,"v":0.0016},{"panel":"h3","series":"red","E":220,"v":0.0013},{"panel":"h3","series":"red","E":240,"v":0.0011},{"panel":"h3","series":"red","E":260,"v":0.0009},{"panel":"h3","series":"red","E":280,"v":0.00075},{"panel":"h3","series":"red","E":290,"v":0.00072},{"panel":"h3","series":"red","E":300,"v":0.0006},{"panel":"h3","series":"red","E":310,"v":0.00048},{"panel":"h3","series":"red","E":320,"v":0.0004},{"panel":"h3","series":"red","E":330,"v":0.00033},{"panel":"h3","series":"red","E":340,"v":0.00028},{"panel":"h3","series":"red","E":350,"v":0.00025},{"panel":"h3","series":"red","E":360,"v":0.00023},{"panel":"h3","series":"red","E":370,"v":0.00021},{"panel":"h3","series":"red","E":380,"v":0.0002},
{"panel":"h3","series":"blue dotted","E":15,"v":0.003},{"panel":"h3","series":"blue dotted","E":20,"v":0.0026},{"panel":"h3","series":"blue dotted","E":25,"v":0.0022},{"panel":"h3","series":"blue dotted","E":30,"v":0.0018},{"panel":"h3","series":"blue dotted","E":35,"v":0.0015},{"panel":"h3","series":"blue dotted","E":40,"v":0.0013},{"panel":"h3","series":"blue dotted","E":50,"v":0.0011},{"panel":"h3","series":"blue dotted","E":60,"v":0.00095},{"panel":"h3","series":"blue dotted","E":70,"v":0.00085},{"panel":"h3","series":"blue dotted","E":80,"v":0.00075},{"panel":"h3","series":"blue dotted","E":90,"v":0.0007},{"panel":"h3","series":"blue dotted","E":100,"v":0.00066},{"panel":"h3","series":"blue dotted","E":110,"v":0.0006},{"panel":"h3","series":"blue dotted","E":120,"v":0.00058},{"panel":"h3","series":"blue dotted","E":130,"v":0.0005},{"panel":"h3","series":"blue dotted","E":140,"v":0.00045},{"panel":"h3","series":"blue dotted","E":150,"v":0.00038},{"panel":"h3","series":"blue dotted","E":160,"v":0.0003},{"panel":"h3","series":"blue dotted","E":170,"v":0.00026},{"panel":"h3","series":"blue dotted","E":180,"v":0.00022},{"panel":"h3","series":"blue dotted","E":190,"v":0.0002},
{"panel":"h3","series":"red dotted","E":15,"v":0.0031},{"panel":"h3","series":"red dotted","E":20,"v":0.0027},{"panel":"h3","series":"red dotted","E":25,"v":0.0023},{"panel":"h3","series":"red dotted","E":30,"v":0.0019},{"panel":"h3","series":"red dotted","E":35,"v":0.0016},{"panel":"h3","series":"red dotted","E":40,"v":0.0014},{"panel":"h3","series":"red dotted","E":50,"v":0.0012},{"panel":"h3","series":"red dotted","E":60,"v":0.001},{"panel":"h3","series":"red dotted","E":70,"v":0.0009},{"panel":"h3","series":"red dotted","E":80,"v":0.0008},{"panel":"h3","series":"red dotted","E":90,"v":0.00072},{"panel":"h3","series":"red dotted","E":100,"v":0.00066},{"panel":"h3","series":"red dotted","E":110,"v":0.00062},{"panel":"h3","series":"red dotted","E":120,"v":0.00058},{"panel":"h3","series":"red dotted","E":130,"v":0.00052},{"panel":"h3","series":"red dotted","E":140,"v":0.00046},{"panel":"h3","series":"red dotted","E":150,"v":0.0004},{"panel":"h3","series":"red dotted","E":160,"v":0.00032},{"panel":"h3","series":"red dotted","E":170,"v":0.00027},{"panel":"h3","series":"red dotted","E":180,"v":0.00023},{"panel":"h3","series":"red dotted","E":195,"v":0.0002},
{"panel":"h3","series":"data","E":23,"v":0.0031},{"panel":"h3","series":"data","E":33,"v":0.0031},{"panel":"h3","series":"data","E":43,"v":0.003},{"panel":"h3","series":"data","E":53,"v":0.003},{"panel":"h3","series":"data","E":63,"v":0.0029},{"panel":"h3","series":"data","E":73,"v":0.0029},{"panel":"h3","series":"data","E":83,"v":0.0028},{"panel":"h3","series":"data","E":93,"v":0.0026},{"panel":"h3","series":"data","E":103,"v":0.0024},{"panel":"h3","series":"data","E":113,"v":0.0027},{"panel":"h3","series":"data","E":123,"v":0.0022},{"panel":"h3","series":"data","E":133,"v":0.0019},{"panel":"h3","series":"data","E":143,"v":0.0017},{"panel":"h3","series":"data","E":153,"v":0.0015},{"panel":"h3","series":"data","E":163,"v":0.0013},{"panel":"h3","series":"data","E":173,"v":0.0012},{"panel":"h3","series":"data","E":183,"v":0.0011},{"panel":"h3","series":"data","E":193,"v":0.001},{"panel":"h3","series":"data","E":203,"v":0.00092},{"panel":"h3","series":"data","E":213,"v":0.0008},{"panel":"h3","series":"data","E":223,"v":0.0007},{"panel":"h3","series":"data","E":233,"v":0.0006},{"panel":"h3","series":"data","E":243,"v":0.00048},{"panel":"h3","series":"data","E":253,"v":0.0004},{"panel":"h3","series":"data","E":263,"v":0.00036},{"panel":"h3","series":"data","E":273,"v":0.00036},{"panel":"h3","series":"data","E":283,"v":0.00022},
{"panel":"h4","series":"blue","E":3,"v":0.005},{"panel":"h4","series":"blue","E":10,"v":0.0059},{"panel":"h4","series":"blue","E":19,"v":0.0067},{"panel":"h4","series":"blue","E":26,"v":0.0067},{"panel":"h4","series":"blue","E":37,"v":0.0059},{"panel":"h4","series":"blue","E":51,"v":0.005},{"panel":"h4","series":"blue","E":69,"v":0.0044},{"panel":"h4","series":"blue","E":87,"v":0.0039},{"panel":"h4","series":"blue","E":101.6,"v":0.0031},{"panel":"h4","series":"blue","E":123,"v":0.0028},{"panel":"h4","series":"blue","E":148,"v":0.0024},{"panel":"h4","series":"blue","E":162.5,"v":0.002},{"panel":"h4","series":"blue","E":184,"v":0.0018},{"panel":"h4","series":"blue","E":212.7,"v":0.0014},{"panel":"h4","series":"blue","E":230.6,"v":0.001},{"panel":"h4","series":"blue","E":245,"v":0.00089},{"panel":"h4","series":"blue","E":259,"v":0.00072},{"panel":"h4","series":"blue","E":273,"v":0.00072},{"panel":"h4","series":"blue","E":284,"v":0.0006},{"panel":"h4","series":"blue","E":295,"v":0.00047},{"panel":"h4","series":"blue","E":309.5,"v":0.00032},{"panel":"h4","series":"blue","E":320,"v":0.00026},{"panel":"h4","series":"blue","E":338,"v":0.00024},{"panel":"h4","series":"blue","E":352,"v":0.0002},
{"panel":"h4","series":"red","E":3,"v":0.004},{"panel":"h4","series":"red","E":8,"v":0.005},{"panel":"h4","series":"red","E":15.4,"v":0.0059},{"panel":"h4","series":"red","E":26,"v":0.0054},{"panel":"h4","series":"red","E":40,"v":0.0054},{"panel":"h4","series":"red","E":51,"v":0.0048},{"panel":"h4","series":"red","E":70,"v":0.0042},{"panel":"h4","series":"red","E":94,"v":0.0035},{"panel":"h4","series":"red","E":112,"v":0.0028},{"panel":"h4","series":"red","E":134,"v":0.0026},{"panel":"h4","series":"red","E":155,"v":0.0021},{"panel":"h4","series":"red","E":166,"v":0.0017},{"panel":"h4","series":"red","E":184,"v":0.0017},{"panel":"h4","series":"red","E":205,"v":0.0014},{"panel":"h4","series":"red","E":216,"v":0.0013},{"panel":"h4","series":"red","E":230.6,"v":0.00097},{"panel":"h4","series":"red","E":245,"v":0.00089},{"panel":"h4","series":"red","E":255.7,"v":0.00072},{"panel":"h4","series":"red","E":270,"v":0.0006},{"panel":"h4","series":"red","E":284.5,"v":0.00051},{"panel":"h4","series":"red","E":299,"v":0.00037},{"panel":"h4","series":"red","E":309.5,"v":0.00035},{"panel":"h4","series":"red","E":320,"v":0.00027},{"panel":"h4","series":"red","E":331,"v":0.00028},{"panel":"h4","series":"red","E":338,"v":0.00023},{"panel":"h4","series":"red","E":343,"v":0.0002},
{"panel":"h4","series":"blue dotted","E":10,"v":0.0031},{"panel":"h4","series":"blue dotted","E":15,"v":0.0024},{"panel":"h4","series":"blue dotted","E":20,"v":0.0019},{"panel":"h4","series":"blue dotted","E":28,"v":0.0015},{"panel":"h4","series":"blue dotted","E":38,"v":0.00097},{"panel":"h4","series":"blue dotted","E":48,"v":0.0007},{"panel":"h4","series":"blue dotted","E":58,"v":0.00056},{"panel":"h4","series":"blue dotted","E":63,"v":0.0004},{"panel":"h4","series":"blue dotted","E":71,"v":0.00037},{"panel":"h4","series":"blue dotted","E":80,"v":0.0003},{"panel":"h4","series":"blue dotted","E":91,"v":0.00027},{"panel":"h4","series":"blue dotted","E":100,"v":0.00023},{"panel":"h4","series":"blue dotted","E":110,"v":0.0002},
{"panel":"h4","series":"red dotted","E":10,"v":0.0031},{"panel":"h4","series":"red dotted","E":15,"v":0.0026},{"panel":"h4","series":"red dotted","E":20,"v":0.0021},{"panel":"h4","series":"red dotted","E":25,"v":0.0016},{"panel":"h4","series":"red dotted","E":31,"v":0.0012},{"panel":"h4","series":"red dotted","E":38,"v":0.00097},{"panel":"h4","series":"red dotted","E":48,"v":0.00072},{"panel":"h4","series":"red dotted","E":58,"v":0.00056},{"panel":"h4","series":"red dotted","E":66,"v":0.00045},{"panel":"h4","series":"red dotted","E":75,"v":0.0004},{"panel":"h4","series":"red dotted","E":85,"v":0.00032},{"panel":"h4","series":"red dotted","E":95,"v":0.00027},{"panel":"h4","series":"red dotted","E":105,"v":0.00023},{"panel":"h4","series":"red dotted","E":115,"v":0.0002},{"panel":"h4","series":"red dotted","E":135,"v":0.0002},
{"panel":"h4","series":"data","E":15.5,"v":0.00155},{"panel":"h4","series":"data","E":25.4,"v":0.011},{"panel":"h4","series":"data","E":36.3,"v":0.0084},{"panel":"h4","series":"data","E":46,"v":0.0065},{"panel":"h4","series":"data","E":56.7,"v":0.0052},{"panel":"h4","series":"data","E":67.5,"v":0.0041},{"panel":"h4","series":"data","E":76.5,"v":0.0035},{"panel":"h4","series":"data","E":87.2,"v":0.003},{"panel":"h4","series":"data","E":98,"v":0.0025},{"panel":"h4","series":"data","E":105,"v":0.0021},{"panel":"h4","series":"data","E":115.9,"v":0.00173},{"panel":"h4","series":"data","E":124.8,"v":0.00159},{"panel":"h4","series":"data","E":135.6,"v":0.00147},{"panel":"h4","series":"data","E":146.4,"v":0.00114},{"panel":"h4","series":"data","E":157.1,"v":0.00114},{"panel":"h4","series":"data","E":166,"v":0.00096},{"panel":"h4","series":"data","E":175,"v":0.00088},{"panel":"h4","series":"data","E":185.8,"v":0.00066},{"panel":"h4","series":"data","E":196.6,"v":0.00053},{"panel":"h4","series":"data","E":205.5,"v":0.00063},{"panel":"h4","series":"data","E":216.3,"v":0.00047},{"panel":"h4","series":"data","E":225.3,"v":0.0004},{"panel":"h4","series":"data","E":245,"v":0.0003}
]},
"data": {"name": "d"},
"vconcat": [
{"width": 495, "height": 273.5, "title": {"text": "p", "dx": 441},
 "transform": [{"filter": "datum.panel === 'p'"}],
 "encoding": {
  "x": {"field": "E", "type": "quantitative", "scale": {"domain": [0, 497], "nice": false, "zero": false}, "axis": {"values": [0,10,20,30,40,50,60,70,80,90,100,110,120,130,140,150,160,170,180,190,200,210,220,230,240,250,260,270,280,290,300,310,320,330,340,350,360,370,380,390,400,410,420,430,440,450,460,470,480,490], "labels": false, "title": null, "tickSize": {"condition": {"test": "datum.value % 50 === 0", "value": -8}, "value": -4.5}}},
  "y": {"field": "v", "type": "quantitative", "scale": {"type": "log", "domain": [0.0002, 0.2], "nice": false}, "axis": {"values": [0.0003,0.0004,0.0005,0.0006,0.0007,0.0008,0.0009,0.001,0.002,0.003,0.004,0.005,0.006,0.007,0.008,0.009,0.01,0.02,0.03,0.04,0.05,0.06,0.07,0.08,0.09,0.1], "title": null, "labelFontSize": 18, "labelPadding": 20, "labelOffset": 3, "labelExpr": "datum.value === 0.1 ? '10⁻¹' : datum.value === 0.01 ? '10⁻²' : datum.value === 0.001 ? '10⁻³' : ''", "tickSize": {"condition": {"test": "datum.value === 0.1 || datum.value === 0.01 || datum.value === 0.001", "value": -18}, "value": -9}}}
 },
 "layer": [
  {"transform": [{"filter": "datum.series === 'data'"}], "mark": {"type": "point", "filled": true, "size": 110, "opacity": 1, "color": "#000", "clip": true}},
  {"transform": [{"filter": "datum.series !== 'data'"}], "mark": {"type": "line", "strokeWidth": 2.5, "clip": true, "strokeCap": "butt"},
   "encoding": {"color": {"field": "series", "type": "nominal", "scale": {"domain": ["blue","red","blue dotted","red dotted"], "range": ["#0000ff","#ff0000","#0000ff","#ff0000"]}, "legend": null},
    "strokeDash": {"field": "series", "type": "nominal", "scale": {"domain": ["blue","red","blue dotted","red dotted"], "range": [[1,0],[1,0],[4,7],[4,7]]}, "legend": null}}}
 ]},
{"width": 495, "height": 273.5, "title": {"text": "d", "dx": 441},
 "transform": [{"filter": "datum.panel === 'd'"}],
 "encoding": {
  "x": {"field": "E", "type": "quantitative", "scale": {"domain": [0, 497], "nice": false, "zero": false}, "axis": {"values": [0,10,20,30,40,50,60,70,80,90,100,110,120,130,140,150,160,170,180,190,200,210,220,230,240,250,260,270,280,290,300,310,320,330,340,350,360,370,380,390,400,410,420,430,440,450,460,470,480,490], "labels": false, "title": null, "tickSize": {"condition": {"test": "datum.value % 50 === 0", "value": -8}, "value": -4.5}}},
  "y": {"field": "v", "type": "quantitative", "scale": {"type": "log", "domain": [0.0002, 0.2], "nice": false}, "axis": {"values": [0.0003,0.0004,0.0005,0.0006,0.0007,0.0008,0.0009,0.001,0.002,0.003,0.004,0.005,0.006,0.007,0.008,0.009,0.01,0.02,0.03,0.04,0.05,0.06,0.07,0.08,0.09,0.1], "title": null, "labelFontSize": 18, "labelPadding": 20, "labelOffset": 3, "labelExpr": "datum.value === 0.1 ? '10⁻¹' : datum.value === 0.01 ? '10⁻²' : datum.value === 0.001 ? '10⁻³' : ''", "tickSize": {"condition": {"test": "datum.value === 0.1 || datum.value === 0.01 || datum.value === 0.001", "value": -18}, "value": -9}}}
 },
 "layer": [
  {"transform": [{"filter": "datum.series === 'data'"}], "mark": {"type": "point", "filled": true, "size": 110, "opacity": 1, "color": "#000", "clip": true}},
  {"transform": [{"filter": "datum.series !== 'data'"}], "mark": {"type": "line", "strokeWidth": 2.5, "clip": true, "strokeCap": "butt"},
   "encoding": {"color": {"field": "series", "type": "nominal", "scale": {"domain": ["blue","red","blue dotted","red dotted"], "range": ["#0000ff","#ff0000","#0000ff","#ff0000"]}, "legend": null},
    "strokeDash": {"field": "series", "type": "nominal", "scale": {"domain": ["blue","red","blue dotted","red dotted"], "range": [[1,0],[1,0],[4,7],[4,7]]}, "legend": null}}}
 ]},
{"width": 495, "height": 273.5, "title": {"text": "t", "dx": 441, "offset": -195},
 "transform": [{"filter": "datum.panel === 't'"}],
 "encoding": {
  "x": {"field": "E", "type": "quantitative", "scale": {"domain": [0, 497], "nice": false, "zero": false}, "axis": {"values": [0,10,20,30,40,50,60,70,80,90,100,110,120,130,140,150,160,170,180,190,200,210,220,230,240,250,260,270,280,290,300,310,320,330,340,350,360,370,380,390,400,410,420,430,440,450,460,470,480,490], "labels": false, "title": null, "tickSize": {"condition": {"test": "datum.value % 50 === 0", "value": -8}, "value": -4.5}}},
  "y": {"field": "v", "type": "quantitative", "scale": {"type": "log", "domain": [0.0002, 0.2], "nice": false}, "axis": {"values": [0.0003,0.0004,0.0005,0.0006,0.0007,0.0008,0.0009,0.001,0.002,0.003,0.004,0.005,0.006,0.007,0.008,0.009,0.01,0.02,0.03,0.04,0.05,0.06,0.07,0.08,0.09,0.1], "title": "d²σ/dΩdE [arb. units]", "titleFontSize": 57, "titlePadding": 62, "labelFontSize": 18, "labelPadding": 20, "labelOffset": 3, "labelExpr": "datum.value === 0.1 ? '10⁻¹' : datum.value === 0.01 ? '10⁻²' : datum.value === 0.001 ? '10⁻³' : ''", "tickSize": {"condition": {"test": "datum.value === 0.1 || datum.value === 0.01 || datum.value === 0.001", "value": -18}, "value": -9}}}
 },
 "layer": [
  {"transform": [{"filter": "datum.series === 'data'"}], "mark": {"type": "point", "filled": true, "size": 110, "opacity": 1, "color": "#000", "clip": true}},
  {"transform": [{"filter": "datum.series !== 'data'"}], "mark": {"type": "line", "strokeWidth": 2.5, "clip": true, "strokeCap": "butt"},
   "encoding": {"color": {"field": "series", "type": "nominal", "scale": {"domain": ["blue","red","blue dotted","red dotted"], "range": ["#0000ff","#ff0000","#0000ff","#ff0000"]}, "legend": null},
    "strokeDash": {"field": "series", "type": "nominal", "scale": {"domain": ["blue","red","blue dotted","red dotted"], "range": [[1,0],[1,0],[4,7],[4,7]]}, "legend": null}}}
 ]},
{"width": 495, "height": 273.5, "title": {"text": "³He", "dx": 392},
 "transform": [{"filter": "datum.panel === 'h3'"}],
 "encoding": {
  "x": {"field": "E", "type": "quantitative", "scale": {"domain": [0, 497], "nice": false, "zero": false}, "axis": {"values": [0,10,20,30,40,50,60,70,80,90,100,110,120,130,140,150,160,170,180,190,200,210,220,230,240,250,260,270,280,290,300,310,320,330,340,350,360,370,380,390,400,410,420,430,440,450,460,470,480,490], "labels": false, "title": null, "tickSize": {"condition": {"test": "datum.value % 50 === 0", "value": -8}, "value": -4.5}}},
  "y": {"field": "v", "type": "quantitative", "scale": {"type": "log", "domain": [0.0002, 0.2], "nice": false}, "axis": {"values": [0.0003,0.0004,0.0005,0.0006,0.0007,0.0008,0.0009,0.001,0.002,0.003,0.004,0.005,0.006,0.007,0.008,0.009,0.01,0.02,0.03,0.04,0.05,0.06,0.07,0.08,0.09,0.1], "title": null, "labelFontSize": 18, "labelPadding": 20, "labelOffset": 3, "labelExpr": "datum.value === 0.1 ? '10⁻¹' : datum.value === 0.01 ? '10⁻²' : datum.value === 0.001 ? '10⁻³' : ''", "tickSize": {"condition": {"test": "datum.value === 0.1 || datum.value === 0.01 || datum.value === 0.001", "value": -18}, "value": -9}}}
 },
 "layer": [
  {"transform": [{"filter": "datum.series === 'data'"}], "mark": {"type": "point", "filled": true, "size": 110, "opacity": 1, "color": "#000", "clip": true}},
  {"transform": [{"filter": "datum.series !== 'data'"}], "mark": {"type": "line", "strokeWidth": 2.5, "clip": true, "strokeCap": "butt"},
   "encoding": {"color": {"field": "series", "type": "nominal", "scale": {"domain": ["blue","red","blue dotted","red dotted"], "range": ["#0000ff","#ff0000","#0000ff","#ff0000"]}, "legend": null},
    "strokeDash": {"field": "series", "type": "nominal", "scale": {"domain": ["blue","red","blue dotted","red dotted"], "range": [[1,0],[1,0],[4,7],[4,7]]}, "legend": null}}}
 ]},
{"width": 495, "height": 273.5, "title": {"text": "⁴He", "dx": 392},
 "transform": [{"filter": "datum.panel === 'h4'"}],
 "encoding": {
  "x": {"field": "E", "type": "quantitative", "scale": {"domain": [0, 497], "nice": false, "zero": false}, "axis": {"values": [0,10,20,30,40,50,60,70,80,90,100,110,120,130,140,150,160,170,180,190,200,210,220,230,240,250,260,270,280,290,300,310,320,330,340,350,360,370,380,390,400,410,420,430,440,450,460,470,480,490], "format": "d", "labelFontSize": 21, "labelPadding": 11, "labelExpr": "datum.value % 50 === 0 ? datum.label : ''", "title": "E [MeV/nucleon]", "titleFontSize": 47, "titlePadding": 17, "titleX": 238, "tickSize": {"condition": {"test": "datum.value % 50 === 0", "value": -8}, "value": -4.5}}},
  "y": {"field": "v", "type": "quantitative", "scale": {"type": "log", "domain": [0.0002, 0.2], "nice": false}, "axis": {"values": [0.0003,0.0004,0.0005,0.0006,0.0007,0.0008,0.0009,0.001,0.002,0.003,0.004,0.005,0.006,0.007,0.008,0.009,0.01,0.02,0.03,0.04,0.05,0.06,0.07,0.08,0.09,0.1], "title": null, "labelFontSize": 18, "labelPadding": 20, "labelOffset": 3, "labelExpr": "datum.value === 0.1 ? '10⁻¹' : datum.value === 0.01 ? '10⁻²' : datum.value === 0.001 ? '10⁻³' : ''", "tickSize": {"condition": {"test": "datum.value === 0.1 || datum.value === 0.01 || datum.value === 0.001", "value": -18}, "value": -9}}}
 },
 "layer": [
  {"transform": [{"filter": "datum.series === 'data'"}], "mark": {"type": "point", "filled": true, "size": 110, "opacity": 1, "color": "#000", "clip": true}},
  {"transform": [{"filter": "datum.series !== 'data'"}], "mark": {"type": "line", "strokeWidth": 2.5, "clip": true, "strokeCap": "butt"},
   "encoding": {"color": {"field": "series", "type": "nominal", "scale": {"domain": ["blue","red","blue dotted","red dotted"], "range": ["#0000ff","#ff0000","#0000ff","#ff0000"]}, "legend": null},
    "strokeDash": {"field": "series", "type": "nominal", "scale": {"domain": ["blue","red","blue dotted","red dotted"], "range": [[1,0],[1,0],[4,7],[4,7]]}, "legend": null}}}
 ]}
]
}
